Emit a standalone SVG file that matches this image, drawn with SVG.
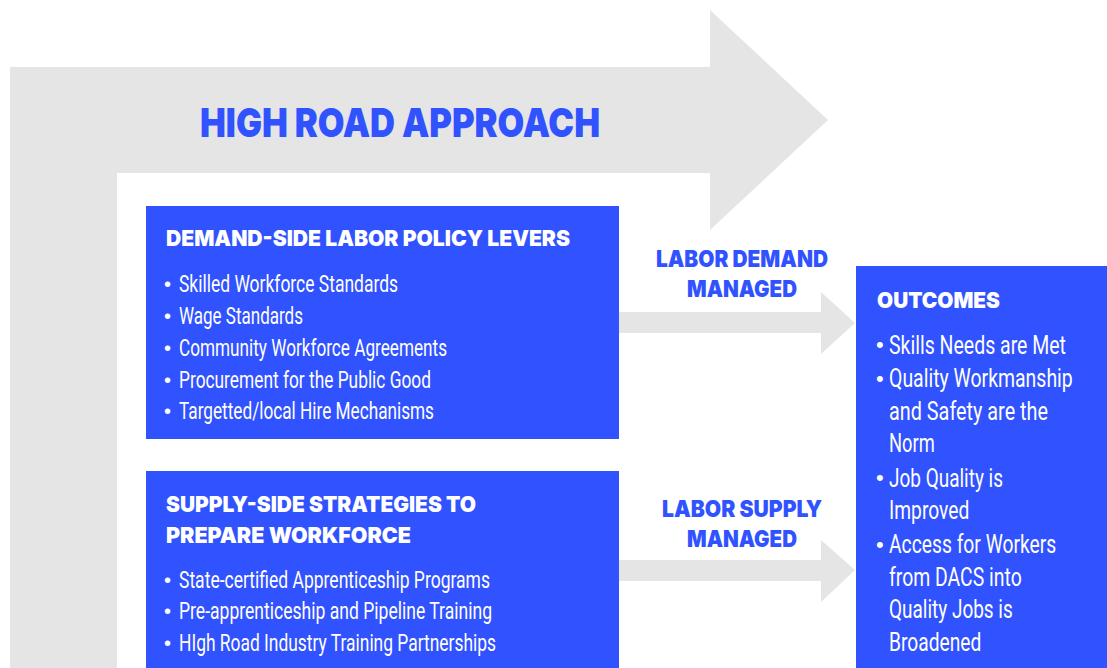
<svg xmlns="http://www.w3.org/2000/svg" width="1107" height="668" viewBox="0 0 1107 668">
<style>
.bg{fill:#e5e5e5}
.box{fill:#3152ff}
.arr{fill:#e5e5e5}
.h{font-family:Inter,Roboto,"Liberation Sans",sans-serif;font-weight:900;fill:#fff}
.lbl{font-family:Inter,Roboto,"Liberation Sans",sans-serif;font-weight:900;fill:#3152ff}
.t{font-family:"Liberation Sans Narrow",Roboto,"Liberation Sans",sans-serif;font-weight:400;fill:#fff}
.b{font-family:"Liberation Sans",sans-serif;fill:#fff}
</style>
<rect width="1107" height="668" fill="#fff"/>
<g id="high-road">
<polygon class="bg" points="10,67 710,67 710,10 828,120 710,230 710,173 117,173 117,668 10,668"/>
<text class="lbl" x="200" y="137" font-size="40" textLength="400" lengthAdjust="spacingAndGlyphs">HIGH ROAD APPROACH</text>
</g>
<g id="connectors">
<polygon class="arr" points="619,312 821,312 821,292 855,323 821,354 821,333 619,333"/>
<polygon class="arr" points="619,560 821,560 821,540 855,570 821,602 821,581 619,581"/>
</g>
<g id="label-demand">
<text class="lbl" x="656" y="267" font-size="23" textLength="172" lengthAdjust="spacingAndGlyphs">LABOR DEMAND</text>
<text class="lbl" x="687" y="297" font-size="23" textLength="110" lengthAdjust="spacingAndGlyphs">MANAGED</text>
</g>
<g id="label-supply">
<text class="lbl" x="662" y="517" font-size="23" textLength="160" lengthAdjust="spacingAndGlyphs">LABOR SUPPLY</text>
<text class="lbl" x="687" y="547" font-size="23" textLength="110" lengthAdjust="spacingAndGlyphs">MANAGED</text>
</g>
<g id="demand">
<rect class="box" x="146" y="206" width="473" height="233"/>
<text class="h" x="166" y="246" font-size="22" textLength="404" lengthAdjust="spacingAndGlyphs">DEMAND-SIDE LABOR POLICY LEVERS</text>
<g font-size="20" class="b">
<text x="164" y="291">•</text><text x="164" y="323">•</text><text x="164" y="355">•</text><text x="164" y="387">•</text><text x="164" y="418">•</text>
</g>
<g class="t" font-size="23">
<text x="179" y="292" textLength="219" lengthAdjust="spacingAndGlyphs">Skilled Workforce Standards</text>
<text x="179" y="324" textLength="124" lengthAdjust="spacingAndGlyphs">Wage Standards</text>
<text x="179" y="356" textLength="268" lengthAdjust="spacingAndGlyphs">Community Workforce Agreements</text>
<text x="179" y="388" textLength="252" lengthAdjust="spacingAndGlyphs">Procurement for the Public Good</text>
<text x="179" y="419" textLength="255" lengthAdjust="spacingAndGlyphs">Targetted/local Hire Mechanisms</text>
</g>
</g>
<g id="supply">
<rect class="box" x="146" y="471" width="473" height="197"/>
<text class="h" x="166" y="512" font-size="22" textLength="310" lengthAdjust="spacingAndGlyphs">SUPPLY-SIDE STRATEGIES TO</text>
<text class="h" x="166" y="543" font-size="22" textLength="245" lengthAdjust="spacingAndGlyphs">PREPARE WORKFORCE</text>
<g font-size="20" class="b">
<text x="164" y="587">•</text><text x="164" y="618">•</text><text x="164" y="650">•</text>
</g>
<g class="t" font-size="23">
<text x="179" y="588" textLength="311" lengthAdjust="spacingAndGlyphs">State-certified Apprenticeship Programs</text>
<text x="179" y="619" textLength="313" lengthAdjust="spacingAndGlyphs">Pre-apprenticeship and Pipeline Training</text>
<text x="179" y="651" textLength="317" lengthAdjust="spacingAndGlyphs">HIgh Road Industry Training Partnerships</text>
</g>
</g>
<g id="outcomes">
<rect class="box" x="856" y="266" width="251" height="402"/>
<text class="h" x="877" y="308" font-size="22" textLength="123" lengthAdjust="spacingAndGlyphs">OUTCOMES</text>
<g font-size="22" class="b">
<text x="876" y="352">•</text><text x="876" y="386">•</text><text x="876" y="485">•</text><text x="876" y="552">•</text>
</g>
<g class="t" font-size="26" transform="translate(889 0) scale(0.75 1)">
<text x="0" y="354" textLength="236" lengthAdjust="spacingAndGlyphs">Skills Needs are Met</text>
<text x="0" y="387" textLength="245" lengthAdjust="spacingAndGlyphs">Quality Workmanship</text>
<text x="0" y="420" textLength="212" lengthAdjust="spacingAndGlyphs">and Safety are the</text>
<text x="0" y="452" textLength="61" lengthAdjust="spacingAndGlyphs">Norm</text>
<text x="0" y="487" textLength="152" lengthAdjust="spacingAndGlyphs">Job Quality is</text>
<text x="0" y="519" textLength="107" lengthAdjust="spacingAndGlyphs">Improved</text>
<text x="0" y="553" textLength="223" lengthAdjust="spacingAndGlyphs">Access for Workers</text>
<text x="0" y="586" textLength="177" lengthAdjust="spacingAndGlyphs">from DACS into</text>
<text x="0" y="618" textLength="165" lengthAdjust="spacingAndGlyphs">Quality Jobs is</text>
<text x="0" y="651" textLength="123" lengthAdjust="spacingAndGlyphs">Broadened</text>
</g>
</g>
</svg>
